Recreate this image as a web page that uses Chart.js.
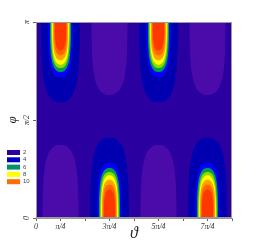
<!DOCTYPE html>
<html>
<head>
<script src="https://cdn.jsdelivr.net/npm/chart.js"></script>
<style>
  html, body { margin: 0; padding: 0; background: #fff; }
  #wrap { width: 261px; height: 252px; }
</style>
</head>
<body>
<div id="wrap"><canvas id="c" width="261" height="252"></canvas></div>
<script>
// both axes are in units of pi/4: theta 0..8, phi 0..4
const thetaLabels = {0: '0', 1: 'π/4', 3: '3π/4', 5: '5π/4', 7: '7π/4'};
const phiLabels = {0: '0', 2: 'π/2', 4: 'π'};

// contour bands around the maxima, outer to inner: colour, arch height, half width at the edge
const bandColors = ['#0000b0', '#0000ff', '#00a050', '#90d800', '#ffff00', '#ffa000', '#ff6800', '#ff3800'];
const bandTops   = [1.64, 1.13, 1.02, 0.94, 0.87, 0.78, 0.68, 0.58];
const bandHalfW  = [0.80, 0.52, 0.44, 0.39, 0.35, 0.32, 0.28, 0.24];

// band around the minima
const lowColor = '#4b0aaa';
const lowTop = 1.49;
const lowHalfW = 0.745;

const maxAtBottom = [3, 7];
const maxAtTop = [1, 5];
const minAtBottom = [1, 5];
const minAtTop = [3, 7];

// arch outline: [fraction of half width, fraction of height]
const archShape = [[1, 0], [0.98, 0.3], [0.93, 0.55], [0.85, 0.72], [0.73, 0.84],
                   [0.58, 0.92], [0.4, 0.97], [0.2, 0.995], [0, 1]];

const legendValues = ['2', '4', '6', '8', '10'];
const legendColors = ['#2c00a0', '#0000c0', '#00906a', '#ffff00', '#ff6c00'];
const bgColor = '#2a00a0';

function arch(centre, top, halfW, fromTop) {
    const left = archShape.map(([w, h]) => ({x: centre - w * halfW, y: h * top}));
    const right = archShape.slice(0, -1).reverse().map(([w, h]) => ({x: centre + w * halfW, y: h * top}));
    let pts = left.concat(right);
    if (fromTop) pts = pts.map(p => ({x: p.x, y: 4 - p.y}));
    return pts;
}

function band(points, color, fill, order) {
    return {
        data: points, backgroundColor: color, borderColor: color, borderWidth: 0,
        pointRadius: 0, fill: fill, tension: 0.3, order: order
    };
}

const datasets = [];
minAtBottom.forEach(c => datasets.push(band(arch(c, lowTop, lowHalfW, false), lowColor, 'origin', 200)));
minAtTop.forEach(c => datasets.push(band(arch(c, lowTop, lowHalfW, true), lowColor, 'end', 200)));
bandColors.forEach((col, i) => {
    maxAtBottom.forEach(c => datasets.push(band(arch(c, bandTops[i], bandHalfW[i], false), col, 'origin', 100 - i)));
    maxAtTop.forEach(c => datasets.push(band(arch(c, bandTops[i], bandHalfW[i], true), col, 'end', 100 - i)));
});

const frame = {
    id: 'frame',
    beforeDatasetsDraw(chart) {
        const {ctx, chartArea: a} = chart;
        ctx.save();
        ctx.fillStyle = bgColor;
        ctx.fillRect(a.left, a.top, a.right - a.left, a.bottom - a.top);
        ctx.restore();
    },
    afterDraw(chart) {
        const {ctx, chartArea: a} = chart;
        ctx.save();
        ctx.strokeStyle = '#9a9a9a';
        ctx.lineWidth = 1;
        ctx.strokeRect(a.left + 0.5, a.top + 0.5, a.right - a.left - 1, a.bottom - a.top - 1);
        // colour key
        ctx.font = '6px "Liberation Sans", Arial, sans-serif';
        ctx.textBaseline = 'middle';
        legendValues.forEach((v, i) => {
            const y = 150 + i * 7.3;
            ctx.fillStyle = legendColors[i];
            ctx.fillRect(7, y, 13, 5);
            ctx.fillStyle = '#444';
            ctx.fillText(v, 23, y + 2.5);
        });
        ctx.restore();
    }
};

const tickFont = {family: '"Liberation Serif", "Times New Roman", serif', style: 'italic', size: 8};

new Chart(document.getElementById('c'), {
    type: 'line',
    data: {datasets},
    options: {
        responsive: false,
        animation: false,
        events: [],
        layout: {padding: {left: 0, right: 29, top: 22, bottom: 0}},
        plugins: {legend: {display: false}, tooltip: {enabled: false}},
        scales: {
            x: {
                type: 'linear', min: 0, max: 8,
                afterBuildTicks: s => { s.ticks = [0, 1, 2, 3, 4, 5, 6, 7, 8].map(v => ({value: v})); },
                afterFit: s => { s.height = 34; },
                ticks: {
                    autoSkip: false, maxRotation: 0, padding: 1, color: '#333', font: tickFont,
                    callback: v => thetaLabels[v] ?? ''
                },
                grid: {drawOnChartArea: false, tickLength: 3, tickColor: '#666'},
                border: {color: '#9a9a9a'},
                title: {
                    display: true, text: 'ϑ', color: '#222', padding: {top: 0, bottom: 9},
                    font: {family: '"Liberation Serif", "DejaVu Serif", serif', style: 'italic', size: 16, lineHeight: 1.2}
                }
            },
            y: {
                type: 'linear', min: 0, max: 4,
                afterBuildTicks: s => { s.ticks = [0, 2, 4].map(v => ({value: v})); },
                afterFit: s => { s.width = 36; },
                ticks: {
                    autoSkip: false, minRotation: 90, maxRotation: 90, crossAlign: 'center',
                    padding: 1, color: '#333', font: tickFont,
                    callback: v => phiLabels[v] ?? ''
                },
                grid: {drawOnChartArea: false, tickLength: 3, tickColor: '#666'},
                border: {color: '#9a9a9a'},
                title: {
                    display: true, text: 'φ', color: '#222', padding: {top: 5, bottom: 0},
                    font: {family: '"Liberation Serif", "DejaVu Serif", serif', style: 'italic', size: 13, lineHeight: 1.2}
                }
            }
        }
    },
    plugins: [frame]
});
</script>
</body>
</html>
